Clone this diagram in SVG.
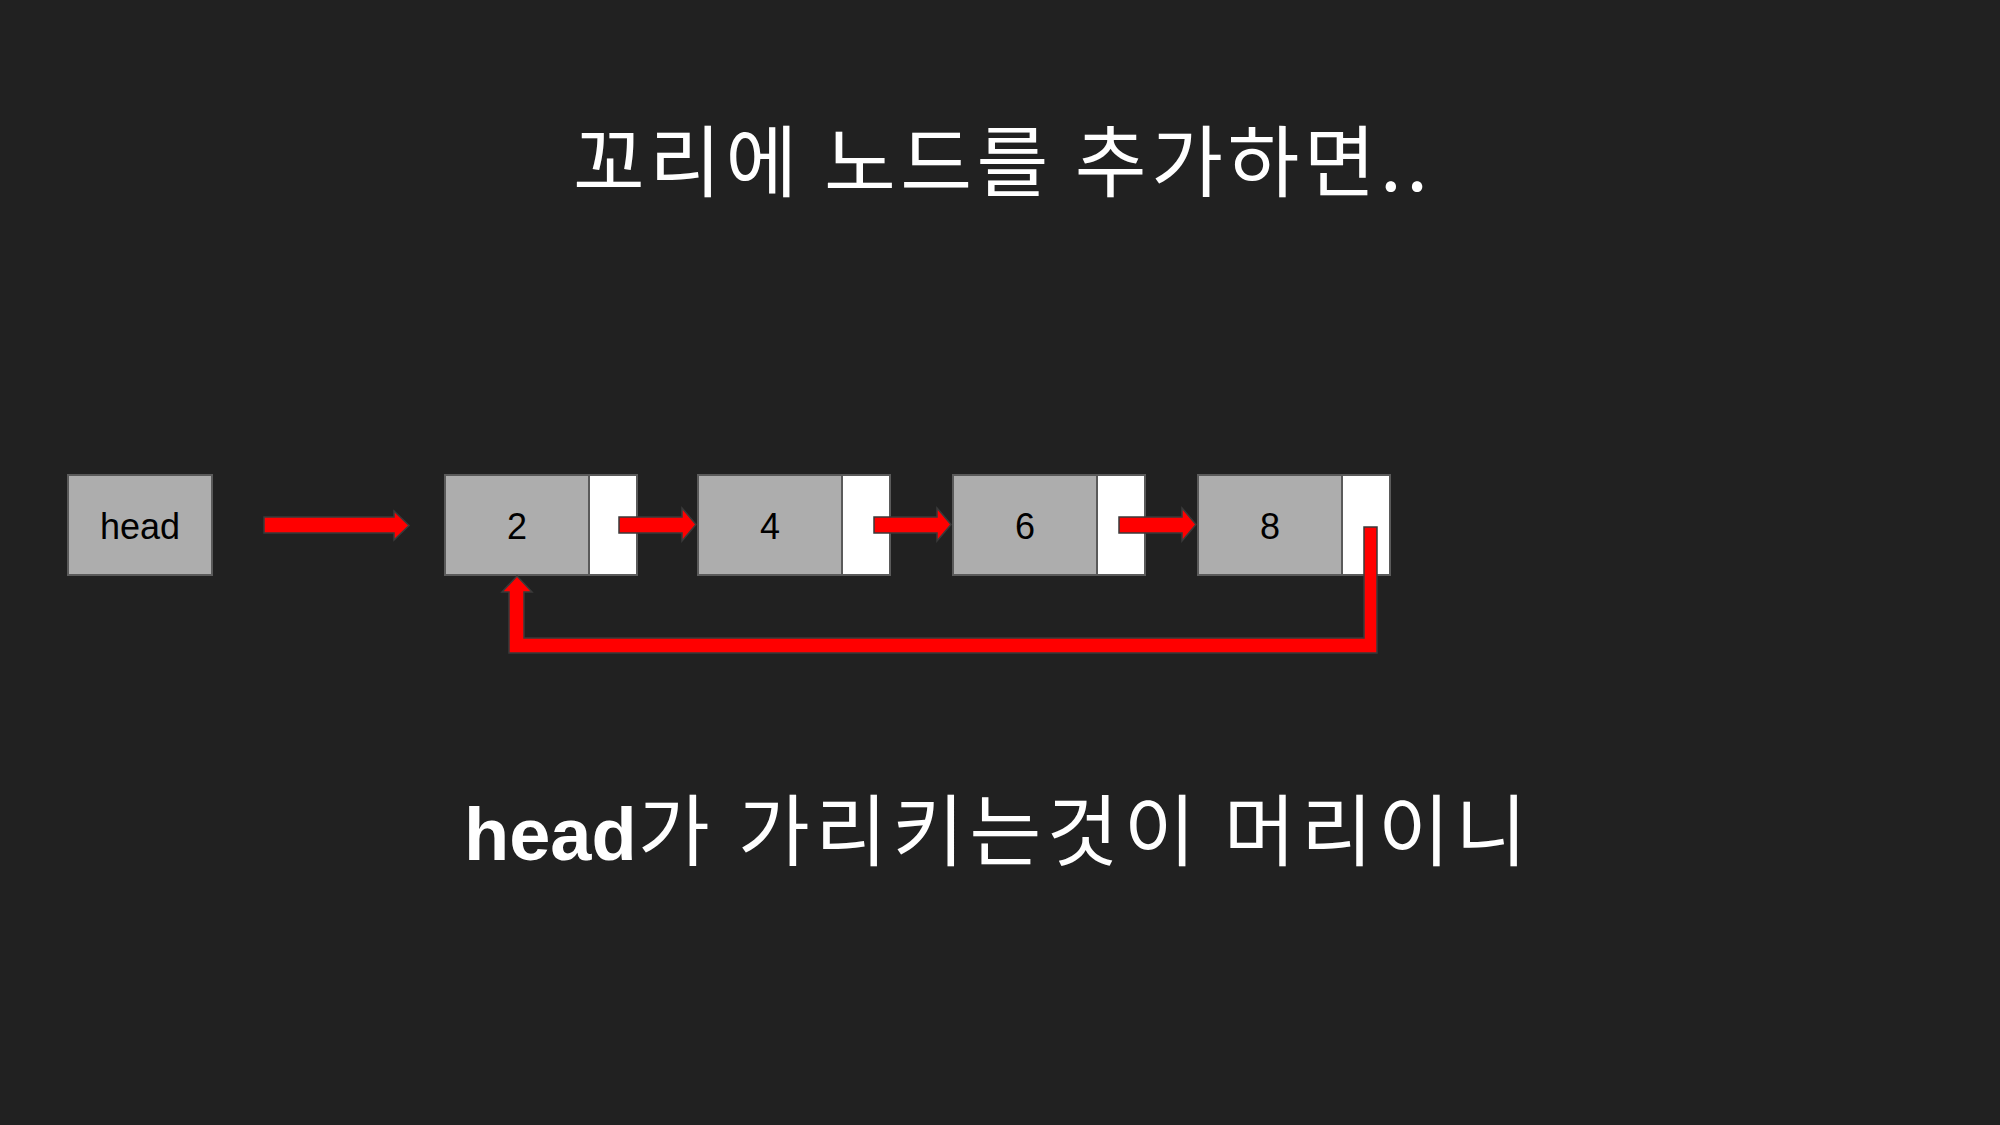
<svg xmlns="http://www.w3.org/2000/svg" width="2000" height="1125" viewBox="0 0 2000 1125">
<style>
.bg{fill:#212121}
.cell{fill:#adadad;stroke:#5a5a5a;stroke-width:2}
.ptr{fill:#ffffff;stroke:#5a5a5a;stroke-width:2}
.lbl{font-family:"Liberation Sans",Arial,sans-serif;font-size:36px;fill:#000;text-anchor:middle}
.arr{fill:#ff0000;stroke:#3a3a3a;stroke-width:1.5;stroke-linejoin:miter}
.ko{font-family:"Noto Sans CJK KR","Noto Sans",sans-serif;font-size:78px;fill:#ffffff;text-anchor:start}
.en{font-family:"Liberation Sans",Arial,sans-serif;font-weight:bold;font-size:74px;fill:#ffffff;text-anchor:start}
</style>
<rect class="bg" x="0" y="0" width="2000" height="1125"/>
<g id="title"><text class="ko" x="573" y="191" textLength="855" lengthAdjust="spacing">꼬리에 노드를 추가하면..</text></g>
<g id="head"><rect class="cell" x="68" y="475" width="144" height="100"/><text class="lbl" x="140" y="539">head</text></g>
<g id="node2"><rect class="cell" x="445" y="475" width="144" height="100"/><rect class="ptr" x="589" y="475" width="48" height="100"/><text class="lbl" x="517" y="539">2</text></g>
<g id="node4"><rect class="cell" x="698" y="475" width="144" height="100"/><rect class="ptr" x="842" y="475" width="48" height="100"/><text class="lbl" x="770" y="539">4</text></g>
<g id="node6"><rect class="cell" x="953" y="475" width="144" height="100"/><rect class="ptr" x="1097" y="475" width="48" height="100"/><text class="lbl" x="1025" y="539">6</text></g>
<g id="node8"><rect class="cell" x="1198" y="475" width="144" height="100"/><rect class="ptr" x="1342" y="475" width="48" height="100"/><text class="lbl" x="1270" y="539">8</text></g>
<g id="connectors">
<polygon class="arr" points="264,517 394,517 394,511 409,525.5 394,540 394,533 264,533"/>
<polygon class="arr" points="619,517 682,517 682,508 696,524.5 682,541 682,533 619,533"/>
<polygon class="arr" points="874,517 937,517 937,508 951,524.5 937,541 937,533 874,533"/>
<polygon class="arr" points="1119,517 1182,517 1182,508 1196,524.5 1182,541 1182,533 1119,533"/>
<polygon class="arr" points="1364,527 1377,527 1377,653 509,653 509,592 502,592 517,576 532,592 524,592 524,638 1364,638"/>
</g>
<g id="caption"><text class="en" x="464" y="860">head</text><text class="ko" x="638" y="860" textLength="889" lengthAdjust="spacing">가 가리키는것이 머리이니</text></g>
</svg>
